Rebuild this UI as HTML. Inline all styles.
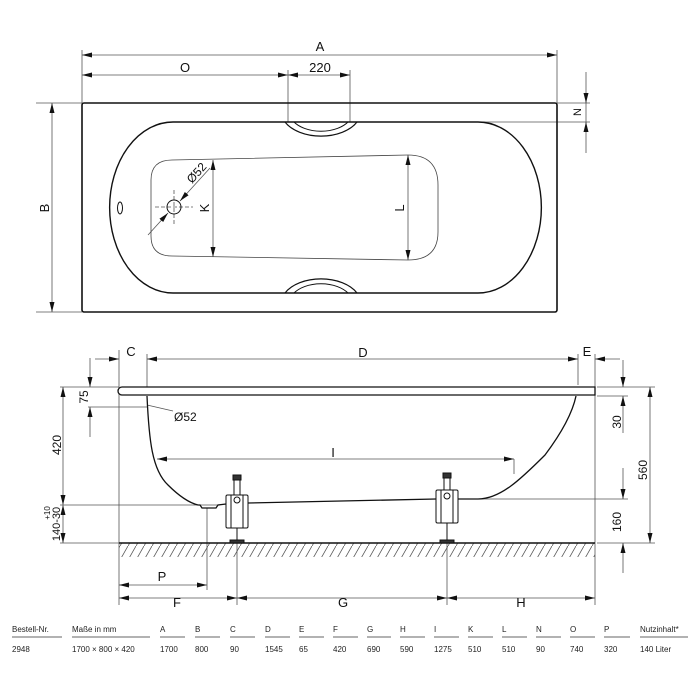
<!DOCTYPE html>
<html><head><style>
body{margin:0;background:#fff}
svg{display:block;font-family:"Liberation Sans",sans-serif}
</style></head><body>
<svg width="700" height="700" viewBox="0 0 700 700">
<defs>
<marker id="a" markerWidth="10" markerHeight="6" refX="10" refY="3" orient="auto-start-reverse" markerUnits="userSpaceOnUse"><path d="M0,0.5 L10,3 L0,5.5z" fill="#111"/></marker>
<pattern id="h" width="8" height="14" patternUnits="userSpaceOnUse"><line x1="0" y1="14" x2="8" y2="0" stroke="#555" stroke-width="0.8"/></pattern>
</defs>
<g stroke="#555" stroke-width="0.8" fill="none">
<line x1="82" y1="50" x2="82" y2="103"/><line x1="557" y1="50" x2="557" y2="103"/>
<line x1="288" y1="70" x2="288" y2="122"/><line x1="350" y1="70" x2="350" y2="122"/>
<line x1="36" y1="103" x2="82" y2="103"/><line x1="36" y1="312" x2="82" y2="312"/>
<line x1="557" y1="103" x2="590" y2="103"/><line x1="478" y1="122" x2="590" y2="122"/>
<line x1="586" y1="72" x2="586" y2="153"/>
<line x1="52" y1="103" x2="52" y2="312" marker-start="url(#a)" marker-end="url(#a)"/>
<line x1="82" y1="55" x2="557" y2="55" marker-start="url(#a)" marker-end="url(#a)"/>
<line x1="82" y1="75" x2="288" y2="75" marker-start="url(#a)" marker-end="url(#a)"/>
<line x1="288" y1="75" x2="350" y2="75" marker-start="url(#a)" marker-end="url(#a)"/>
<line x1="586" y1="93" x2="586" y2="103" marker-end="url(#a)"/>
<line x1="586" y1="132" x2="586" y2="122" marker-end="url(#a)"/>
<line x1="213" y1="160" x2="213" y2="257" marker-start="url(#a)" marker-end="url(#a)"/>
<line x1="408" y1="155" x2="408" y2="260" marker-start="url(#a)" marker-end="url(#a)"/>
<line x1="148" y1="235" x2="168" y2="213" marker-end="url(#a)"/>
<line x1="210" y1="168" x2="180" y2="201" marker-end="url(#a)"/>
<line x1="155" y1="207" x2="193" y2="207" stroke-dasharray="4,2"/>
<line x1="174" y1="190" x2="174" y2="225" stroke-dasharray="4,2"/>
</g>
<g stroke="#111" fill="none">
<rect x="82" y="103" width="475" height="209" rx="2" stroke-width="1.6"/>
<path d="M173,122 L478,122 A63,85 0 0 1 478,293 L173,293 A63,85 0 0 1 173,122z" stroke-width="1.4"/>
<path d="M172,160 L408,155 Q438,155 438,185 L438,232 Q438,260 408,260 L172,256 Q151,256 151,236 L151,180 Q151,160 172,160z" stroke-width="0.8" stroke="#444"/>
<circle cx="174" cy="207" r="7" stroke-width="1"/>
<ellipse cx="120" cy="208" rx="2.5" ry="6" stroke-width="1"/>
<path d="M285,122 A40,25 0 0 0 357,122" stroke-width="1.2"/>
<path d="M294,122 A32,20 0 0 0 348,122" stroke-width="1"/>
<path d="M285,293 A40,25 0 0 1 357,293" stroke-width="1.2"/>
<path d="M294,293 A32,20 0 0 1 348,293" stroke-width="1"/>
</g>
<g font-size="13" fill="#111">
<text x="320" y="51" text-anchor="middle">A</text>
<text x="185" y="72" text-anchor="middle">O</text>
<text x="320" y="72" text-anchor="middle">220</text>
<text transform="translate(49,208) rotate(-90)" text-anchor="middle">B</text>
<text transform="translate(209,208) rotate(-90)" text-anchor="middle">K</text>
<text transform="translate(404,208) rotate(-90)" text-anchor="middle">L</text>
<text transform="translate(581,112) rotate(-90)" text-anchor="middle" font-size="11">N</text>
<text transform="translate(192,184) rotate(-48)" font-size="12">Ø52</text>
</g>

<g stroke="#555" stroke-width="0.8" fill="none">
<line x1="119" y1="350" x2="119" y2="605"/><line x1="147" y1="354" x2="147" y2="387"/>
<line x1="595" y1="354" x2="595" y2="605"/><line x1="578" y1="354" x2="578" y2="385"/>
<line x1="147" y1="359" x2="578" y2="359" marker-start="url(#a)" marker-end="url(#a)"/>
<line x1="95" y1="359" x2="119" y2="359" marker-end="url(#a)"/>
<line x1="620" y1="359" x2="595" y2="359" marker-end="url(#a)"/>
<line x1="60" y1="387" x2="119" y2="387"/><line x1="88" y1="407" x2="147" y2="407"/>
<line x1="90" y1="358" x2="90" y2="387" marker-end="url(#a)"/>
<line x1="90" y1="437" x2="90" y2="407" marker-end="url(#a)"/>
<line x1="63" y1="387" x2="63" y2="505" marker-start="url(#a)" marker-end="url(#a)"/>
<line x1="63" y1="505" x2="63" y2="543" marker-start="url(#a)" marker-end="url(#a)"/>
<line x1="60" y1="505" x2="220" y2="505"/><line x1="60" y1="543" x2="119" y2="543"/>
<line x1="147" y1="405" x2="173" y2="411"/>
<line x1="157" y1="459" x2="514" y2="459" marker-start="url(#a)" marker-end="url(#a)"/>
<line x1="514" y1="459" x2="514" y2="474"/>
<line x1="597" y1="387" x2="655" y2="387"/><line x1="597" y1="396" x2="628" y2="396"/>
<line x1="597" y1="543" x2="655" y2="543"/><line x1="480" y1="499" x2="628" y2="499"/>
<line x1="623" y1="360" x2="623" y2="387" marker-end="url(#a)"/>
<line x1="623" y1="433" x2="623" y2="396" marker-end="url(#a)"/>
<line x1="650" y1="387" x2="650" y2="543" marker-start="url(#a)" marker-end="url(#a)"/>
<line x1="623" y1="468" x2="623" y2="499" marker-end="url(#a)"/>
<line x1="623" y1="573" x2="623" y2="543" marker-end="url(#a)"/>
<line x1="207" y1="508" x2="207" y2="590"/>
<line x1="237" y1="543" x2="237" y2="605"/><line x1="447" y1="543" x2="447" y2="605"/>
<line x1="119" y1="585" x2="207" y2="585" marker-start="url(#a)" marker-end="url(#a)"/>
<line x1="119" y1="598" x2="237" y2="598" marker-start="url(#a)" marker-end="url(#a)"/>
<line x1="237" y1="598" x2="447" y2="598" marker-start="url(#a)" marker-end="url(#a)"/>
<line x1="447" y1="598" x2="595" y2="598" marker-start="url(#a)" marker-end="url(#a)"/>
</g>
<rect x="119" y="543" width="476" height="14" fill="url(#h)"/>
<line x1="119" y1="543" x2="595" y2="543" stroke="#111" stroke-width="1.4"/>
<g stroke="#111" fill="none" stroke-width="1.3">
<path d="M122,387 L595,387 L595,395 L122,395 A4,4 0 0 1 122,387z" fill="#fff"/>
<path d="M147,396 C149,440 152,470 168,485 C180,497 190,503 198,505 L200,505 L202,508 L216,508 L218,505 L226,504"/>
<path d="M248,503 L436,499"/>
<path d="M458,499 L478,499 C500,499 520,480 545,455 C560,435 572,415 576,396"/>
</g>
<g stroke="#111" stroke-width="1" fill="#fff">
<rect x="226" y="495" width="22" height="33" rx="1.5"/>
<rect x="231" y="495" width="12" height="33"/>
<rect x="234" y="478" width="6" height="17"/>
<rect x="233" y="475" width="8" height="5" fill="#333"/>
<circle cx="237" cy="500" r="3"/>
<line x1="237" y1="528" x2="237" y2="541"/>
<rect x="230" y="540" width="14" height="3" fill="#333"/>
<rect x="436" y="490" width="22" height="33" rx="1.5"/>
<rect x="441" y="490" width="12" height="33"/>
<rect x="444" y="476" width="6" height="14"/>
<rect x="443" y="473" width="8" height="5" fill="#333"/>
<circle cx="447" cy="496" r="3"/>
<line x1="447" y1="523" x2="447" y2="541"/>
<rect x="440" y="540" width="14" height="3" fill="#333"/>
</g>
<g font-size="13" fill="#111">
<text x="131" y="356" text-anchor="middle">C</text>
<text x="363" y="357" text-anchor="middle">D</text>
<text x="587" y="356" text-anchor="middle">E</text>
<text transform="translate(88,397) rotate(-90)" text-anchor="middle" font-size="12">75</text>
<text transform="translate(61,445) rotate(-90)" text-anchor="middle" font-size="12">420</text>
<text transform="translate(60,524) rotate(-90)" text-anchor="middle" font-size="11">140-30</text>
<text transform="translate(50,513) rotate(-90)" text-anchor="middle" font-size="8">+10</text>
<text x="174" y="421" font-size="12">Ø52</text>
<text x="333" y="457" text-anchor="middle">I</text>
<text transform="translate(621,422) rotate(-90)" text-anchor="middle" font-size="12">30</text>
<text transform="translate(647,470) rotate(-90)" text-anchor="middle" font-size="12">560</text>
<text transform="translate(621,522) rotate(-90)" text-anchor="middle" font-size="12">160</text>
<text x="162" y="581" text-anchor="middle">P</text>
<text x="177" y="607" text-anchor="middle">F</text>
<text x="343" y="607" text-anchor="middle">G</text>
<text x="521" y="607" text-anchor="middle">H</text>
</g>
<g font-size="8" fill="#222">
<text x="12" y="632">Bestell-Nr.</text><text x="12" y="652">2948</text>
<text x="72" y="632">Maße in mm</text><text x="72" y="652">1700 × 800 × 420</text>
<text x="160" y="632">A</text><text x="160" y="652">1700</text>
<text x="195" y="632">B</text><text x="195" y="652">800</text>
<text x="230" y="632">C</text><text x="230" y="652">90</text>
<text x="265" y="632">D</text><text x="265" y="652">1545</text>
<text x="299" y="632">E</text><text x="299" y="652">65</text>
<text x="333" y="632">F</text><text x="333" y="652">420</text>
<text x="367" y="632">G</text><text x="367" y="652">690</text>
<text x="400" y="632">H</text><text x="400" y="652">590</text>
<text x="434" y="632">I</text><text x="434" y="652">1275</text>
<text x="468" y="632">K</text><text x="468" y="652">510</text>
<text x="502" y="632">L</text><text x="502" y="652">510</text>
<text x="536" y="632">N</text><text x="536" y="652">90</text>
<text x="570" y="632">O</text><text x="570" y="652">740</text>
<text x="604" y="632">P</text><text x="604" y="652">320</text>
<text x="640" y="632">Nutzinhalt*</text><text x="640" y="652">140 Liter</text>
</g>
<g stroke="#333" stroke-width="0.8">
<line x1="12" y1="637" x2="62" y2="637"/><line x1="72" y1="637" x2="150" y2="637"/>
<line x1="160" y1="637" x2="185" y2="637"/><line x1="195" y1="637" x2="220" y2="637"/>
<line x1="230" y1="637" x2="255" y2="637"/><line x1="265" y1="637" x2="290" y2="637"/>
<line x1="299" y1="637" x2="324" y2="637"/><line x1="333" y1="637" x2="358" y2="637"/>
<line x1="367" y1="637" x2="391" y2="637"/><line x1="400" y1="637" x2="425" y2="637"/>
<line x1="434" y1="637" x2="459" y2="637"/><line x1="468" y1="637" x2="493" y2="637"/>
<line x1="502" y1="637" x2="527" y2="637"/><line x1="536" y1="637" x2="561" y2="637"/>
<line x1="570" y1="637" x2="595" y2="637"/><line x1="604" y1="637" x2="630" y2="637"/>
<line x1="640" y1="637" x2="688" y2="637"/>
</g>
</svg>
</body></html>
